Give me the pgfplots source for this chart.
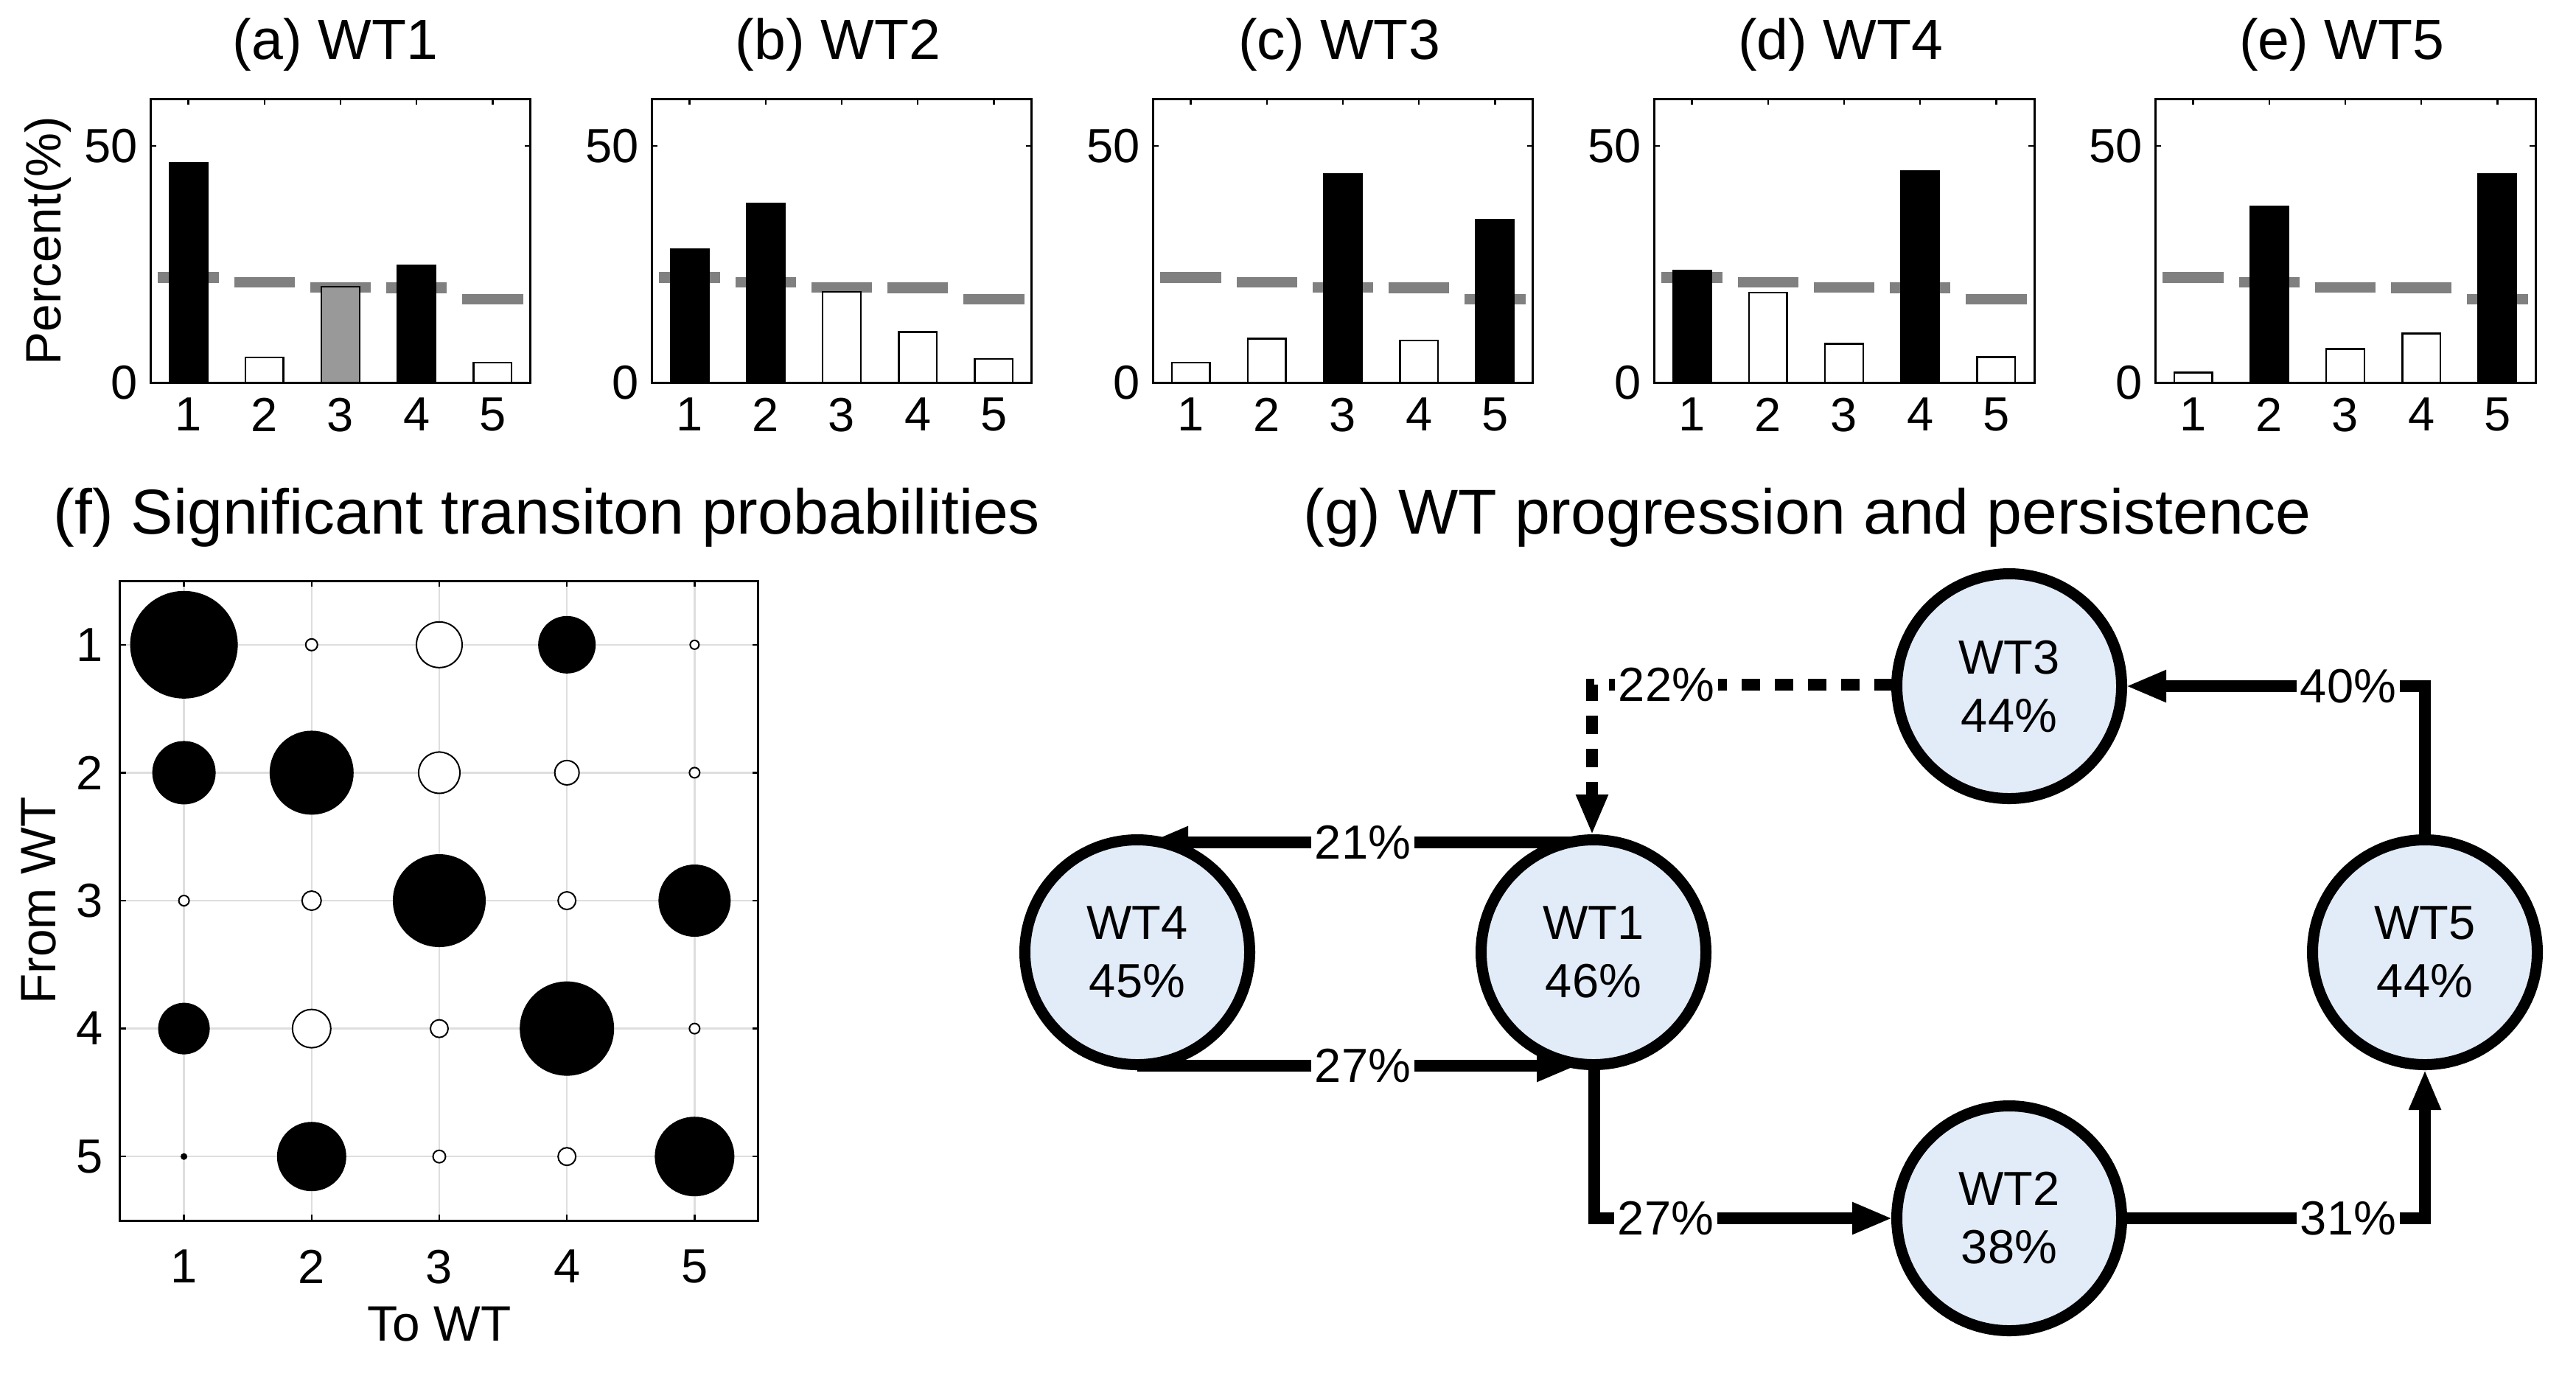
\documentclass[border=0pt]{standalone}
\usepackage{fontspec}
\setmainfont{Liberation Sans}
\usepackage{pgfplots}
\pgfplotsset{compat=1.18}
\usetikzlibrary{arrows.meta}

\definecolor{refgray}{RGB}{128,128,128}
\definecolor{bargray}{RGB}{153,153,153}
\definecolor{nodeblue}{RGB}{226,236,248}
\definecolor{gridgray}{RGB}{222,222,222}

% 1 px of the reference = 0.2pt
\pgfplotsset{
  panel/.style={
    scale only axis, anchor=south west,
    tick align=inside, tick pos=both,
    major tick length=1.6pt,
    axis line style={line width=0.6pt},
    every tick/.append style={black, line width=0.5pt},
    tick label style={font=\fontsize{13}{15}\selectfont},
    label style={font=\fontsize{13.5}{16}\selectfont},
    /pgf/number format/assume math mode=true,
  },
  wtbar/.style={
    panel, width=103.2pt, height=77pt,
    xmin=0.5, xmax=5.5, ymin=0, ymax=60,
    xtick={1,2,3,4,5}, ytick={0,50},
    xticklabel style={yshift=-0.6pt},
  },
  clim/.style={draw=none, mark=none, forget plot,
    error bars/.cd, x dir=both, x fixed=0.4, error mark=none,
    error bar style={draw=refgray, line width=2.9pt}},
  wtbars/.style={ybar, bar width=0.5, bar shift=0pt, draw=black, line width=0.5pt, fill=#1},
  bubble/.style={scatter, only marks, mark=*, line width=0.4pt,
    scatter/use mapped color={draw=black, fill=#1},
    visualization depends on={0.2*\thisrow{r} \as \rad},
    scatter/@pre marker code/.append style={/tikz/mark size=\rad pt}},
  edge/.style={black, line width=3.2pt, mark=none, line join=miter,
    -{Triangle[length=11pt,width=8pt]}},
}
\tikzset{
  elabel/.style={fill=white, inner sep=1pt, font=\fontsize{13}{15}\selectfont},
  ptitle/.style={anchor=base, font=\fontsize{15.4}{18}\selectfont},
  btitle/.style={anchor=base, font=\fontsize{17.2}{20}\selectfont},
}

\begin{document}
\begin{tikzpicture}
\useasboundingbox (0,0) rectangle (699pt,373.2pt);

% ---- (a)-(e): WT frequency bars, gray = climatology
\begin{axis}[wtbar, at={(40.8pt,269.4pt)}, ylabel={Percent(\%)},
  ylabel style={at={(axis description cs:-0.269,0.5)}, anchor=center}]
\addplot[clim] coordinates {(1,22.2) (2,21.2) (3,20.1) (4,20.0) (5,17.6)};
\addplot[wtbars=black] coordinates {(1,46.4) (4,24.7)};
\addplot[wtbars=bargray] coordinates {(3,20.3)};
\addplot[wtbars=white] coordinates {(2,5.3) (5,4.2)};
\end{axis}

\begin{axis}[wtbar, at={(176.8pt,269.4pt)}]
\addplot[clim] coordinates {(1,22.2) (2,21.2) (3,20.1) (4,20.0) (5,17.6)};
\addplot[wtbars=black] coordinates {(1,28.2) (2,37.9)};
\addplot[wtbars=white] coordinates {(3,19.2) (4,10.7) (5,5.0)};
\end{axis}

\begin{axis}[wtbar, at={(312.8pt,269.4pt)}]
\addplot[clim] coordinates {(1,22.2) (2,21.2) (3,20.1) (4,20.0) (5,17.6)};
\addplot[wtbars=black] coordinates {(3,44.0) (5,34.4)};
\addplot[wtbars=white] coordinates {(1,4.2) (2,9.3) (4,8.9)};
\end{axis}

\begin{axis}[wtbar, at={(448.8pt,269.4pt)}]
\addplot[clim] coordinates {(1,22.2) (2,21.2) (3,20.1) (4,20.0) (5,17.6)};
\addplot[wtbars=black] coordinates {(1,23.6) (4,44.7)};
\addplot[wtbars=white] coordinates {(2,19.0) (3,8.2) (5,5.4)};
\end{axis}

\begin{axis}[wtbar, at={(584.8pt,269.4pt)}]
\addplot[clim] coordinates {(1,22.2) (2,21.2) (3,20.1) (4,20.0) (5,17.6)};
\addplot[wtbars=black] coordinates {(2,37.2) (5,44.0)};
\addplot[wtbars=white] coordinates {(1,2.1) (3,7.1) (4,10.4)};
\end{axis}

% ---- (f): transition matrix bubbles (r = radius in reference px)
\begin{axis}[panel, at={(32.6pt,42pt)}, width=173.2pt, height=173.6pt,
  xmin=0.5, xmax=5.5, ymin=0.5, ymax=5.5, y dir=reverse,
  xtick={1,2,3,4,5}, ytick={1,2,3,4,5},
  grid=major, grid style={gridgray, line width=0.5pt},
  xlabel={To WT}, ylabel={From WT},
  xlabel style={at={(axis description cs:0.5,-0.162)}, anchor=center},
  ylabel style={at={(axis description cs:-0.127,0.5)}, anchor=center},
  xticklabel style={yshift=-4.5pt}, yticklabel style={xshift=-1.2pt}]
\addplot[bubble=black] table {
x y r
1 1 72
4 1 38
1 2 42
2 2 56
3 3 62
5 3 48
1 4 34
4 4 63
1 5 3.5
2 5 46
5 5 53
};
\addplot[bubble=white] table {
x y r
2 1 8
3 1 31
5 1 6
3 2 28
4 2 16.5
5 2 7
1 3 7
2 3 13
4 3 12
2 4 26
3 4 12
5 4 7
3 5 8.5
4 5 12
};
\end{axis}

% ---- (g): WT progression diagram, axis in reference pixels; panel titles
\begin{axis}[at={(0pt,0pt)}, anchor=south west, scale only axis,
  width=699pt, height=373.2pt, xmin=0, xmax=3495, ymin=0, ymax=1866,
  y dir=reverse, hide axis, clip=false]
\addplot[only marks, mark=*, mark size=30.5pt,
  mark options={draw=black, fill=nodeblue, line width=3pt},
  point meta=explicit symbolic, nodes near coords, nodes near coords align={center},
  every node near coord/.append style={anchor=center, align=center,
    font=\fontsize{13}{15.8}\selectfont}]
coordinates {
(1543,1292) [WT4\\45\%]
(2162,1292) [WT1\\46\%]
(2726,931)  [WT3\\44\%]
(3290,1292) [WT5\\44\%]
(2726,1653) [WT2\\38\%]
};
\addplot[edge] coordinates {(2162,1143) (1557,1143)};
\addplot[edge] coordinates {(1543,1446) (2140,1446)};
\addplot[edge] coordinates {(2163,1452) (2163,1653) (2568,1653)};
\addplot[edge, dash pattern=on 5pt off 4pt] coordinates {(2568,929) (2160,929) (2160,1133)};
\addplot[edge] coordinates {(3290,1132) (3290,931) (2884,931)};
\addplot[edge] coordinates {(2884,1653) (3290,1653) (3290,1451)};
\node[elabel] at (axis cs:1849,1143) {21\%};
\node[elabel] at (axis cs:1849,1446) {27\%};
\node[elabel] at (axis cs:2261,929) {22\%};
\node[elabel] at (axis cs:2260,1653) {27\%};
\node[elabel] at (axis cs:3186,931) {40\%};
\node[elabel] at (axis cs:3186,1653) {31\%};
\node[ptitle] at (axis cs:455,80) {(a) WT1};
\node[ptitle] at (axis cs:1137,80) {(b) WT2};
\node[ptitle] at (axis cs:1817,80) {(c) WT3};
\node[ptitle] at (axis cs:2497,80) {(d) WT4};
\node[ptitle] at (axis cs:3177,80) {(e) WT5};
\node[btitle] at (axis cs:742,724) {(f) Significant transiton probabilities};
\node[btitle] at (axis cs:2452,724) {(g) WT progression and persistence};
\end{axis}
\end{tikzpicture}
\end{document}
